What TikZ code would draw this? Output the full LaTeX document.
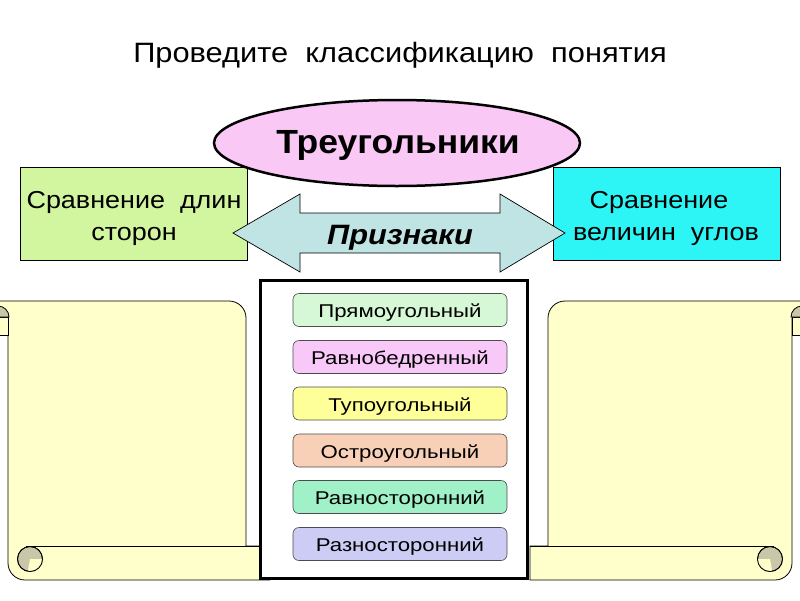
\documentclass[tikz,border=0pt]{standalone}
\usepackage{fontspec}
\setmainfont{Liberation Sans}
\usetikzlibrary{shapes.geometric}
\definecolor{lgreen}{RGB}{210,245,160}
\definecolor{lcyan}{RGB}{45,245,245}
\definecolor{lpink}{RGB}{250,200,245}
\definecolor{arrowc}{RGB}{192,228,228}
\definecolor{scrollc}{RGB}{255,255,204}
\definecolor{curlc}{RGB}{200,200,168}
\definecolor{c1}{RGB}{214,248,214}
\definecolor{c2}{RGB}{248,200,248}
\definecolor{c3}{RGB}{255,255,153}
\definecolor{c4}{RGB}{248,208,184}
\definecolor{c5}{RGB}{160,240,200}
\definecolor{c6}{RGB}{204,204,244}
\newcommand\myscroll[1]{%
  \filldraw[scrollc, draw=black, line width=0.8pt]
    (8,317) -- (8,563) arc (180:90:17) -- (270,580) -- (270,546) -- (#1,546)
    -- (#1,318) arc (0:-90:17) -- (-20,301) -- (-20,317) -- cycle;
  \draw[line width=0.8pt] (26,546) -- (270,546);
  \filldraw[fill=scrollc, draw=black, line width=0.8pt] (-20,317) rectangle (8,335);
  \filldraw[fill=curlc, draw=black, line width=0.8pt] (9,317) arc (0:-90:11) -- (-2,317) -- cycle;
  \filldraw[fill=curlc, draw=black, line width=0.8pt] (30,559) circle (12.5);
  \fill[scrollc] (30,559) -- (42.5,559) arc (0:100:12.5) -- cycle;
  \draw[line width=0.8pt] (30,559) circle (12.5);
}
\newcommand\sx[2]{\scalebox{#1}[1]{#2}}
\tikzset{
  sidebox/.style={draw=black, line width=0.6pt, minimum width=227pt, minimum height=93pt, inner sep=0pt},
  sidetext/.style={anchor=base, inner sep=0pt, font=\fontsize{24.5}{29}\selectfont},
  kind/.style={draw=black!70, line width=0.6pt, rounded corners=6pt, minimum width=214pt,
    minimum height=33pt, inner sep=0pt},
  kindtext/.style={anchor=base, inner sep=0pt, font=\fontsize{18.5}{22}\selectfont},
}
\begin{document}
\begin{tikzpicture}[x=1pt,y=-1pt]
\clip (0,0) rectangle (800,600);
\fill[white] (0,0) rectangle (800,600);
% scrolls
\myscroll{246}
\begin{scope}[xshift=800pt, xscale=-1]
\myscroll{252}
\end{scope}
% central box
\node[draw=black, fill=white, line width=3pt, minimum width=267pt, minimum height=298pt, inner sep=0pt] (frame) at (393.5,429) {};
\foreach \i/\c/\y/\t in {1/c1/310/Прямоугольный, 2/c2/357/Равнобедренный, 3/c3/403.5/Тупоугольный,
    4/c4/450.5/Остроугольный, 5/c5/497/Равносторонний, 6/c6/544/Разносторонний}{
  \node[kind, fill=\c] (k\i) at (400,\y) {};
  \node[kindtext] (kt\i) at ([yshift=-7.5pt]k\i.center) {\sx{1.2}{\t}};
}
% side boxes
\node[sidebox, fill=lgreen] (sides) at (133.5,213.5) {};
\node[sidetext] (sides1) at (134,208) {\sx{1.1}{Сравнение\ \ длин}};
\node[sidetext] (sides2) at (134,240) {\sx{1.1}{сторон}};
\node[sidebox, fill=lcyan] (angles) at (666.5,213.5) {};
\node[sidetext] (angles1) at (659,208) {\sx{1.1}{Сравнение}};
\node[sidetext] (angles2) at (666,240) {\sx{1.1}{величин\ \ углов}};
% ellipse
\node[ellipse, draw=black, line width=2.5pt, fill=lpink, minimum width=366pt, minimum height=86pt, inner sep=0pt] (tri) at (397,143) {};
\node[anchor=base, inner sep=0pt, font=\fontsize{33.5}{40}\selectfont\bfseries] (tritext) at (398,153) {\sx{1.06}{Треугольники}};
% double arrow
\filldraw[fill=arrowc, draw=black, line width=0.7pt]
  (233,233) -- (300,194) -- (300,213) -- (500,213) -- (500,194) -- (565,233)
  -- (500,272) -- (500,253) -- (300,253) -- (300,272) -- cycle;
\node[anchor=base, inner sep=0pt, font=\fontsize{28}{33}\selectfont\bfseries\itshape] (sign) at (400,244) {\sx{1.1}{Признаки}};
% title
\node[anchor=base, inner sep=0pt, font=\fontsize{28}{33}\selectfont] (title) at (400,62) {\sx{1.1}{Проведите\ \ классификацию\ \ понятия}};
\end{tikzpicture}
\end{document}
